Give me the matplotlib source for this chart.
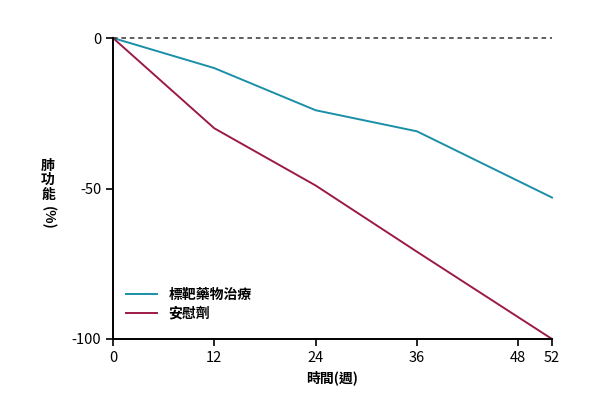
import matplotlib
matplotlib.use("Agg")
import matplotlib.pyplot as plt

plt.rcParams['font.family'] = ['Noto Sans CJK TC', 'DejaVu Sans']
plt.rcParams['axes.unicode_minus'] = False

weeks = [0, 12, 24, 36, 52]
treat = [0, -10, -24, -31, -53]
placebo = [0, -30, -49, -71, -100]
xticks = [0, 12, 24, 36, 48, 52]
yticks = [0, -50, -100]
labels = ["標靶藥物治療", "安慰劑"]

fig = plt.figure(figsize=(6, 4.04), dpi=100)
ax = fig.add_axes([113/600, 1-339/404, (552-113)/600, (339-38)/404])

ax.plot(weeks, treat, color="#1a8fa8", lw=1.4, clip_on=False, label=labels[0])
ax.plot(weeks, placebo, color="#9b1b45", lw=1.4, clip_on=False, label=labels[1])
ax.plot([0, 52], [0, 0], color="#333333", lw=1.1, ls=(0, (3, 2.5)), clip_on=False)

ax.set_xlim(0, 52)
ax.set_ylim(-100, 0)
ax.set_xticks(xticks)
ax.set_yticks(yticks)
ax.spines['top'].set_visible(False)
ax.spines['right'].set_visible(False)
for s in ['left', 'bottom']:
    ax.spines[s].set_linewidth(1.4)
ax.tick_params(direction='out', length=5, width=1.2, labelsize=10.5, colors='black')

ax.set_xlabel("時間(週)", fontsize=10, fontweight='bold', labelpad=4)
fig.text(48/600, 1-180/404, "肺\n功\n能", fontsize=10, fontweight='bold',
         ha='center', va='center', linespacing=1.05)
fig.text(48/600, 1-218/404, "(%)", fontsize=10, fontweight='bold',
         ha='center', va='center', rotation=270)

ax.legend(loc='lower left', bbox_to_anchor=(0.0, 0.02), frameon=False, fontsize=10,
          handlelength=2.3, handletextpad=0.8, labelspacing=0.3,
          prop={'family': ['Noto Sans CJK TC'], 'weight': 'bold', 'size': 10})

fig.savefig("out.png", dpi=100)
